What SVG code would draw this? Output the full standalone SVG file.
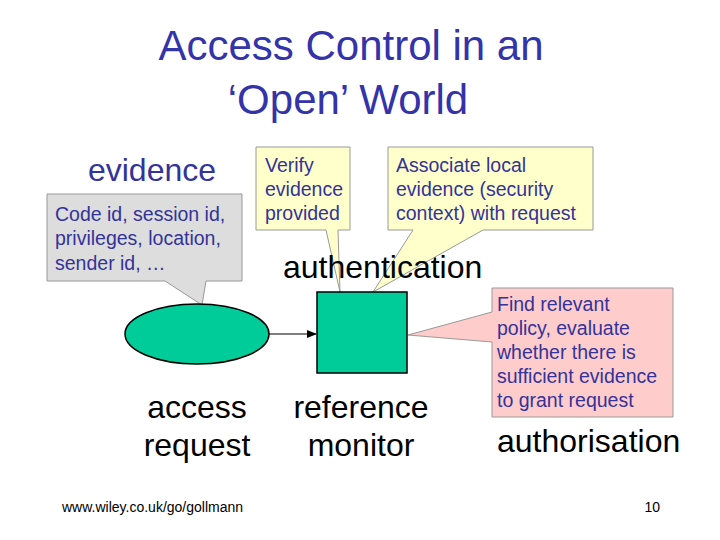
<svg xmlns="http://www.w3.org/2000/svg" width="720" height="540" viewBox="0 0 720 540">
<style>
text{font-family:"Liberation Sans",Arial,sans-serif}
.title{font-size:42px;fill:#3333aa;text-anchor:middle}
.big{font-size:32px;fill:#000}
.blue{fill:#333399}
.call{font-size:19.5px;fill:#333399}
.co{stroke:#999;stroke-width:1}
.shape{fill:#00cc99;stroke:#000;stroke-width:1.5}
</style>
<defs>
<marker id="ah" markerWidth="10" markerHeight="8" refX="9" refY="4" orient="auto" markerUnits="userSpaceOnUse">
<path d="M0,0 L10,4 L0,8 Z" fill="#000"/>
</marker>
</defs>
<rect width="720" height="540" fill="#fff"/>
<g id="title">
<text class="title" x="351" y="60">Access Control in an</text>
<text class="title" x="348" y="114">‘Open’ World</text>
</g>
<g id="evidence-label"><text class="big blue" x="152" y="181" text-anchor="middle">evidence</text></g>
<g id="callout-evidence">
<path class="co" fill="#dddddd" d="M47,194 H242 V281 H206 L202,305 L165,281 H47 Z"/>
<text class="call" x="55" y="221">Code id, session id,</text>
<text class="call" x="55" y="245">privileges, location,</text>
<text class="call" x="55" y="270">sender id, …</text>
</g>
<g id="callout-verify">
<path class="co" fill="#ffffcc" d="M256,147 H350 V230 H338 L340,292 L326,230 H256 Z"/>
<text class="call" x="265" y="172">Verify</text>
<text class="call" x="265" y="196">evidence</text>
<text class="call" x="265" y="220">provided</text>
</g>
<g id="callout-associate">
<path class="co" fill="#ffffcc" d="M388,147 H593 V230 H483 L373,292 L413,230 H388 Z"/>
<text class="call" x="396" y="172">Associate local</text>
<text class="call" x="396" y="196">evidence (security</text>
<text class="call" x="396" y="220">context) with request</text>
</g>
<g id="authentication-label"><text class="big" x="283" y="278">authentication</text></g>
<g id="callout-policy">
<path class="co" fill="#ffcccc" d="M492,288 H673 V417 H492 V342 L408,335 L492,312 Z"/>
<text class="call" x="497" y="311">Find relevant</text>
<text class="call" x="497" y="335">policy, evaluate</text>
<text class="call" x="497" y="359">whether there is</text>
<text class="call" x="497" y="383">sufficient evidence</text>
<text class="call" x="497" y="407">to grant request</text>
</g>
<g id="access-request">
<ellipse class="shape" cx="197" cy="334" rx="72" ry="30"/>
<text class="big" x="197" y="418" text-anchor="middle">access</text>
<text class="big" x="197" y="456" text-anchor="middle">request</text>
</g>
<g id="reference-monitor">
<rect class="shape" x="317" y="292" width="90" height="81"/>
<text class="big" x="361" y="418" text-anchor="middle">reference</text>
<text class="big" x="361" y="456" text-anchor="middle">monitor</text>
</g>
<g id="authorisation-label"><text class="big" x="497" y="452">authorisation</text></g>
<g id="connectors">
<line x1="269" y1="334" x2="316" y2="334" stroke="#000" stroke-width="1.2" marker-end="url(#ah)"/>
</g>
<g id="footer">
<text x="62" y="512" font-size="14" fill="#000">www.wiley.co.uk/go/gollmann</text>
<text x="660" y="512" font-size="14" fill="#000" text-anchor="end">10</text>
</g>
</svg>
